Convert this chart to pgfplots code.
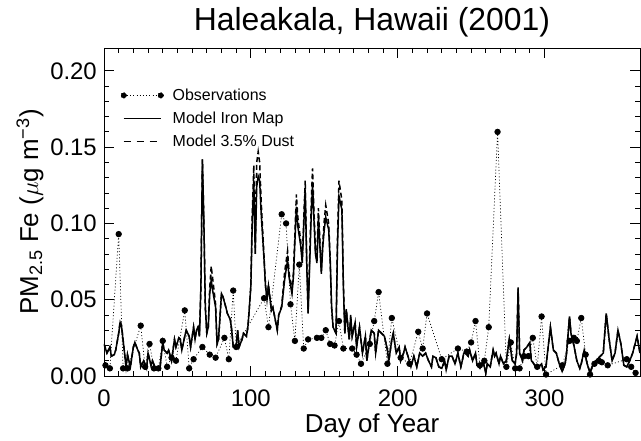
\documentclass[border=0pt]{standalone}
\usepackage{pgfplots}
\pgfplotsset{compat=1.18}
\usepackage{pgfplotstable}
\usepackage{fontspec}
\setmainfont{Liberation Sans}

\pgfplotstableread{
day iron dust
0 0.021 0.021
2 0.015 0.015
4 0.019 0.019
5 0.013 0.013
7 0.014 0.014
8 0.017 0.017
10 0.028 0.028
11 0.035 0.036
12 0.032 0.033
14 0.015 0.015
15 0.006 0.006
16 0.014 0.014
18 0.006 0.006
20 0.019 0.019
21 0.022 0.022
23 0.017 0.017
24 0.015 0.015
25 0.006 0.006
27 0.010 0.010
29 0.005 0.005
30 0.015 0.015
32 0.007 0.007
33 0.010 0.010
35 0.005 0.005
36 0.005 0.005
38 0.004 0.004
40 0.022 0.022
41 0.017 0.017
43 0.015 0.015
44 0.017 0.017
46 0.010 0.010
48 0.024 0.024
49 0.019 0.019
51 0.025 0.025
52 0.024 0.024
53 0.017 0.017
55 0.026 0.026
56 0.030 0.030
58 0.026 0.026
59 0.019 0.019
61 0.032 0.032
62 0.024 0.024
63 0.030 0.030
64 0.032 0.032
65 0.026 0.026
66 0.059 0.059
67 0.142 0.142
68 0.102 0.102
69 0.045 0.045
70 0.028 0.028
71 0.032 0.032
72 0.054 0.058
73 0.063 0.072
74 0.056 0.064
76 0.045 0.047
77 0.021 0.021
78 0.024 0.024
80 0.054 0.054
81 0.052 0.052
83 0.045 0.045
84 0.041 0.041
86 0.037 0.037
87 0.030 0.030
88 0.019 0.019
90 0.019 0.019
91 0.030 0.030
92 0.019 0.019
94 0.024 0.024
95 0.028 0.028
97 0.026 0.026
98 0.032 0.032
99 0.045 0.045
100 0.059 0.059
101 0.102 0.108
102 0.128 0.138
103 0.080 0.084
104 0.124 0.140
105 0.131 0.147
106 0.128 0.140
107 0.107 0.115
109 0.076 0.078
110 0.059 0.059
111 0.050 0.050
112 0.059 0.060
114 0.043 0.043
115 0.045 0.045
118 0.030 0.030
119 0.040 0.040
121 0.045 0.046
123 0.063 0.068
125 0.076 0.082
126 0.065 0.068
128 0.054 0.056
129 0.065 0.068
131 0.111 0.119
132 0.098 0.104
134 0.085 0.088
135 0.074 0.076
137 0.122 0.128
138 0.076 0.078
139 0.041 0.041
141 0.102 0.110
142 0.126 0.136
143 0.102 0.108
144 0.080 0.082
145 0.074 0.076
146 0.104 0.110
148 0.067 0.069
149 0.085 0.088
150 0.096 0.102
151 0.104 0.112
153 0.096 0.100
154 0.076 0.078
155 0.045 0.045
156 0.032 0.032
158 0.028 0.028
159 0.085 0.090
160 0.118 0.128
162 0.109 0.115
163 0.059 0.061
164 0.028 0.028
165 0.043 0.044
167 0.024 0.024
168 0.039 0.040
169 0.026 0.026
171 0.035 0.035
172 0.019 0.019
174 0.032 0.032
176 0.015 0.015
178 0.026 0.026
179 0.010 0.010
181 0.024 0.024
182 0.030 0.030
184 0.028 0.028
185 0.015 0.015
187 0.030 0.030
189 0.028 0.028
191 0.026 0.026
193 0.017 0.017
194 0.010 0.010
196 0.024 0.024
197 0.028 0.028
199 0.015 0.015
201 0.019 0.019
202 0.010 0.010
204 0.015 0.015
205 0.019 0.019
207 0.013 0.013
209 0.006 0.006
211 0.013 0.013
213 0.006 0.006
215 0.015 0.015
217 0.013 0.013
219 0.015 0.015
221 0.010 0.010
223 0.006 0.006
224 0.013 0.013
226 0.012 0.012
228 0.006 0.006
230 0.005 0.005
232 0.010 0.010
233 0.004 0.004
235 0.013 0.013
237 0.013 0.013
239 0.008 0.008
241 0.015 0.015
243 0.006 0.006
244 0.010 0.010
245 0.015 0.015
246 0.015 0.015
248 0.013 0.013
249 0.017 0.017
251 0.010 0.010
253 0.015 0.015
254 0.007 0.007
256 0.005 0.005
258 0.010 0.010
260 0.002 0.002
261 0.008 0.008
263 0.006 0.006
265 0.017 0.017
266 0.013 0.013
267 0.015 0.015
269 0.008 0.008
270 0.013 0.013
272 0.008 0.008
274 0.010 0.010
276 0.024 0.024
278 0.010 0.010
280 0.008 0.008
281 0.015 0.015
282 0.058 0.058
283 0.015 0.015
285 0.010 0.010
286 0.017 0.017
288 0.019 0.019
290 0.022 0.022
291 0.010 0.010
292 0.009 0.009
294 0.006 0.006
296 0.006 0.006
298 0.008 0.008
299 0.004 0.004
301 0.006 0.006
302 0.015 0.015
304 0.032 0.032
306 0.017 0.017
308 0.015 0.015
310 0.008 0.008
312 0.003 0.003
314 0.008 0.008
315 0.015 0.015
317 0.039 0.039
318 0.028 0.028
320 0.020 0.020
322 0.010 0.010
324 0.005 0.005
325 0.008 0.008
327 0.017 0.017
329 0.008 0.008
331 0.002 0.002
333 0.008 0.008
335 0.010 0.010
338 0.013 0.013
340 0.015 0.015
342 0.041 0.041
344 0.024 0.024
346 0.010 0.010
348 0.015 0.015
350 0.030 0.030
352 0.021 0.021
354 0.007 0.007
356 0.006 0.006
358 0.010 0.010
360 0.015 0.015
363 0.026 0.026
365 0.015 0.015
}\model

\pgfplotstableread{
day obs
1 0.007
4 0.005
10 0.093
13 0.005
16 0.005
25 0.033
28 0.006
31 0.021
34 0.005
37 0.005
40 0.023
43 0.006
46 0.012
49 0.010
55 0.043
58 0.005
61 0.011
67 0.019
72 0.014
76 0.012
82 0.025
85 0.011
88 0.056
90 0.019
109 0.051
112 0.032
121 0.106
124 0.100
127 0.047
130 0.023
133 0.073
136 0.018
139 0.024
145 0.025
148 0.025
151 0.030
154 0.021
157 0.020
160 0.036
163 0.018
169 0.018
172 0.014
175 0.008
181 0.021
184 0.036
187 0.055
193 0.008
196 0.038
202 0.012
208 0.008
214 0.029
217 0.018
220 0.041
230 0.011
241 0.018
247 0.016
250 0.022
253 0.036
256 0.007
259 0.010
262 0.032
268 0.160
274 0.006
277 0.022
280 0.005
283 0.005
286 0.013
289 0.013
292 0.025
295 0.006
298 0.039
301 0.001
312 0.007
317 0.023
320 0.025
322 0.023
325 0.038
328 0.014
331 0.001
334 0.008
337 0.010
339 0.009
343 0.007
356 0.011
359 0.006
362 0.002
}\obs

\begin{document}
\begin{tikzpicture}
\begin{axis}[
  width=536bp, height=328bp, scale only axis,
  xmin=0, xmax=365, ymin=0, ymax=0.215,
  xtick={0,100,200,300}, ytick={0,0.05,0.10,0.15,0.20},
  minor x tick num=9, minor y tick num=4,
  tick align=inside, major tick length=10bp, minor tick length=5bp,
  axis line style={line width=0.9bp},
  every tick/.style={black, line width=0.8bp},
  scaled y ticks=false,
  /pgf/number format/assume math mode=true,
  yticklabel style={/pgf/number format/fixed, /pgf/number format/fixed zerofill, /pgf/number format/precision=2,
    anchor=east, inner sep=0pt, xshift=-7bp},
  xticklabel style={anchor=base, yshift=-31bp},
  ticklabel style={font=\fontsize{24}{28}\selectfont},
  title={Haleakala, Hawaii (2001)},
  title style={at={(axis description cs:0.5,1.036)}, anchor=base, font=\fontsize{32}{36}\selectfont},
  xlabel={Day of Year},
  xlabel style={at={(axis description cs:0.5,-0.171)}, anchor=base, font=\fontsize{26}{30}\selectfont},
  ylabel={PM\textsubscript{2.5} Fe ($\mu$g m\textsuperscript{−3})},
  ylabel style={at={(axis description cs:-0.1231,0.5)}, anchor=base, font=\fontsize{26}{30}\selectfont},
  legend style={at={(axis description cs:0.025,0.885)}, anchor=north west, draw=none, fill=none,
    font=\fontsize{16}{19}\selectfont, row sep=8bp, nodes={inner sep=1bp}},
  legend cell align=left,
]
\addplot[black, line width=0.7bp, dash pattern=on 1bp off 2.2bp, mark=*, mark size=2.8bp,
  mark options={solid, fill=black},
  legend image code/.code={
    \path[draw=none] (-3bp,0bp) -- (48bp,0bp);
    \draw[black, line width=0.7bp, dash pattern=on 1bp off 2.2bp] (0bp,0bp) -- (37bp,0bp);
    \fill[black] (0bp,0bp) circle (2.8bp);
    \fill[black] (37bp,0bp) circle (2.8bp);}]
  table[x=day, y=obs] {\obs};
\addlegendentry{Observations}
\addplot[black, line width=1.5bp, mark=none,
  legend image code/.code={\path[draw=none] (-3bp,0bp) -- (48bp,0bp);
    \draw[black, line width=1.5bp] (0bp,0bp) -- (37bp,0bp);}]
  table[x=day, y=iron] {\model};
\addlegendentry{Model Iron Map}
\addplot[black, line width=1.5bp, mark=none, dash pattern=on 5bp off 3bp,
  legend image code/.code={\path[draw=none] (-3bp,0bp) -- (48bp,0bp);
    \draw[black, line width=1.5bp, dash pattern=on 7bp off 6bp] (0bp,0bp) -- (37bp,0bp);}]
  table[x=day, y=dust] {\model};
\addlegendentry{Model 3.5\% Dust}
\end{axis}
\path ([xshift=-104bp,yshift=-62bp]current axis.south west) rectangle ([xshift=1bp,yshift=48bp]current axis.north east);
\end{tikzpicture}
\end{document}
